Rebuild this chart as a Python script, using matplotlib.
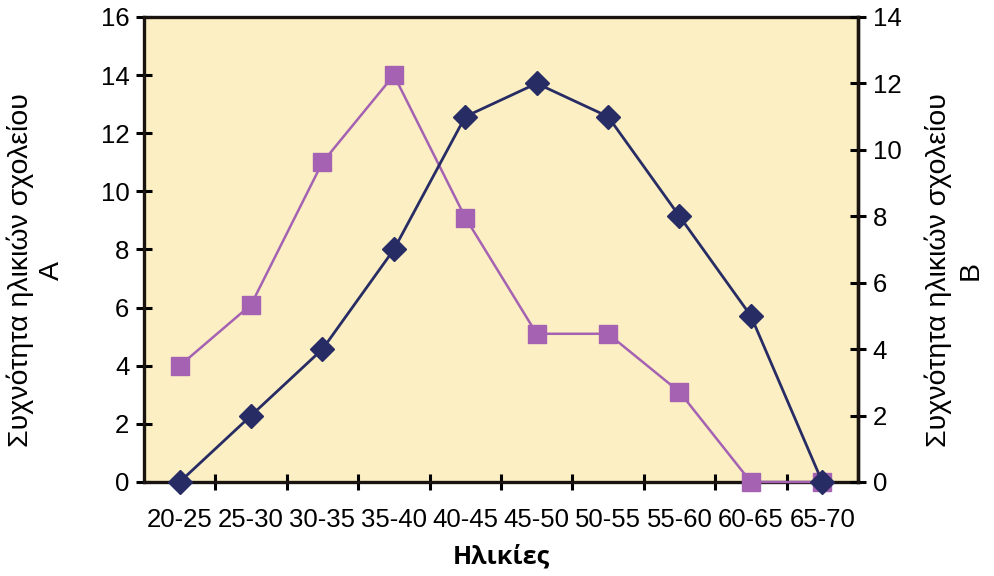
"""Frequency of school ages A and B by age group."""

import matplotlib.pyplot as plt

age_groups = ["20-25", "25-30", "30-35", "35-40", "40-45",
              "45-50", "50-55", "55-60", "60-65", "65-70"]
school_a = [4, 6.1, 11, 14, 9.1, 5.1, 5.1, 3.1, 0, 0]
school_b = [0, 2, 4, 7, 11, 12, 11, 8, 5, 0]

PINK = "#a562b3"
NAVY = "#282c64"
BG = "#fbefc3"
AXIS = "#1a1410"

plt.rcParams["font.family"] = ["Liberation Sans", "DejaVu Sans"]

fig = plt.figure(figsize=(9.95, 5.76), dpi=100)
ax = fig.add_axes([0.1447, 0.1632, 0.7176, 0.8073])
ax.set_facecolor(BG)
ax2 = ax.twinx()

x = list(range(len(age_groups)))
ax.plot(x, school_a, color=PINK, linewidth=1.8, marker="s", markersize=12.5,
        markerfacecolor=PINK, markeredgecolor=PINK, zorder=3, clip_on=False)
ax2.plot(x, school_b, color=NAVY, linewidth=2.0, marker="D", markersize=12,
         markerfacecolor=NAVY, markeredgecolor=NAVY, zorder=4, clip_on=False)

ax.set_xlim(-0.5, len(age_groups) - 0.5)
ax.set_ylim(0, 16)
ax2.set_ylim(0, 14)
ax.set_yticks(range(0, 17, 2))
ax2.set_yticks(range(0, 15, 2))

# category labels centred, ticks on the category boundaries
ax.set_xticks(x)
ax.set_xticklabels(age_groups)
ax.set_xticks([i + 0.5 for i in x[:-1]], minor=True)
ax.tick_params(axis="x", which="major", length=0, pad=19, labelsize=18.5)
ax.tick_params(axis="x", which="minor", direction="inout", length=11, width=2.2)
ax.tick_params(axis="y", direction="inout", length=11, width=2.2, labelsize=18.5, pad=5)
ax2.tick_params(axis="y", direction="inout", length=11, width=2.2, labelsize=18.5, pad=5)

for spine in ax.spines.values():
    spine.set_linewidth(2.4)
    spine.set_color(AXIS)
# the twin axis only keeps its own right spine, so the pink line shows on the bottom one
for side in ("left", "top", "bottom"):
    ax2.spines[side].set_visible(False)
ax2.spines["right"].set_linewidth(2.4)
ax2.spines["right"].set_color(AXIS)

fig.text(0.036, 0.531, "Συχνότητα ηλικιών σχολείου\nA", rotation=90,
         ha="center", va="center", multialignment="center", fontsize=20.5,
         linespacing=1.25)
fig.text(0.959, 0.531, "Συχνότητα ηλικιών σχολείου\nB", rotation=90,
         ha="center", va="center", multialignment="center", fontsize=20.5,
         linespacing=1.25)
ax.set_xlabel("Ηλικίες", fontsize=18, fontweight="bold", family="Open Sans",
              labelpad=9)

plt.savefig("out.png", dpi=100)
plt.close()
